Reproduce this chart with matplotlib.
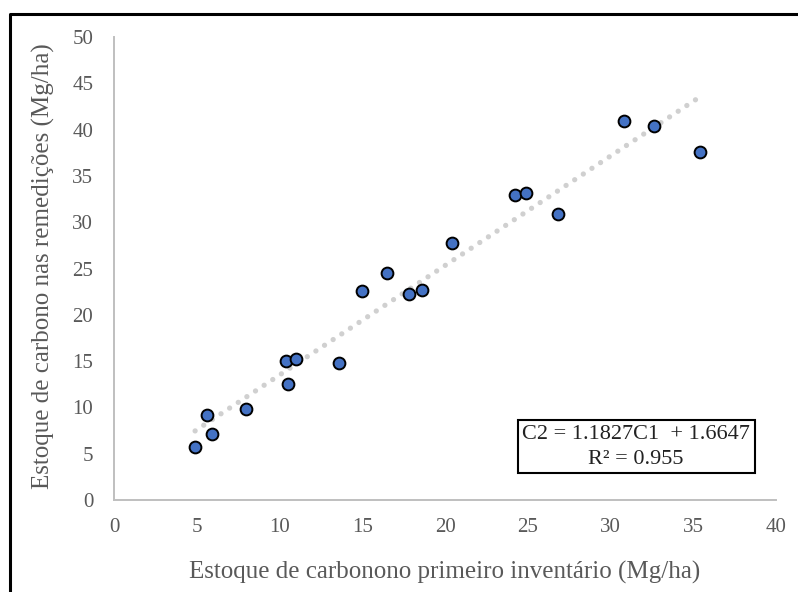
"""Carbon stock: first inventory vs. re-measurements, with linear trend."""

import numpy as np
import matplotlib
matplotlib.use('Agg')
import matplotlib.pyplot as plt
from matplotlib.lines import Line2D

# ── Data ─────────────────────────────────────────────────────────────────────

c1_first = [4.9, 5.6, 5.9, 8.0, 10.4, 10.5, 11.0, 13.6, 15.0, 16.5,
            17.8, 18.6, 20.4, 24.2, 24.9, 26.8, 30.8, 32.6, 35.4]
c2_remeasure = [5.7, 9.2, 7.1, 9.8, 15.0, 12.5, 15.2, 14.8, 22.6, 24.5,
                22.2, 22.7, 27.8, 32.9, 33.1, 30.9, 40.9, 40.4, 37.6]

slope = 1.1827
intercept = 1.6647
r_squared = 0.955

x_ticks = [0, 5, 10, 15, 20, 25, 30, 35, 40]
y_ticks = [0, 5, 10, 15, 20, 25, 30, 35, 40, 45, 50]

# ── Style ─────────────────────────────────────────────────────────────────────

TICK_GREY = '#595959'
SPINE_GREY = '#bfbfbf'
POINT_BLUE = '#4472c4'
TREND_GREY = '#d0d0d0'

plt.rcParams['font.family'] = ['Liberation Serif', 'DejaVu Serif']

fig = plt.figure(figsize=(7.98, 5.92), dpi=100)
ax = fig.add_axes([114 / 798, 1 - 500 / 592, 662 / 798, 463 / 592])

# trend line over the data range
xs = np.array([min(c1_first), max(c1_first)])
ax.plot(xs, slope * xs + intercept, color=TREND_GREY, linewidth=3.8,
        linestyle=(0, (0.01, 1.95)), dash_capstyle='round', zorder=2)

ax.scatter(c1_first, c2_remeasure, s=72, color=POINT_BLUE,
           edgecolors='black', linewidths=1.4, zorder=3)

ax.set_xlim(0, 40)
ax.set_ylim(0, 50)
ax.set_xticks(x_ticks)
ax.set_yticks(y_ticks)
ax.tick_params(length=0, labelsize=15, colors=TICK_GREY)
ax.tick_params(axis='x', pad=13)
ax.tick_params(axis='y', pad=15)

for side in ('top', 'right'):
    ax.spines[side].set_visible(False)
for side in ('left', 'bottom'):
    ax.spines[side].set_color(SPINE_GREY)
    ax.spines[side].set_linewidth(1.4)

ax.set_xlabel('Estoque de carbonono primeiro inventário (Mg/ha)',
              fontsize=18, color=TICK_GREY, va='center')
ax.set_ylabel('Estoque de carbono nas remedições (Mg/ha)',
              fontsize=18, color=TICK_GREY, va='center')
ax.xaxis.set_label_coords(0.5, -0.156)
ax.yaxis.set_label_coords(-0.106, 0.505)

ax.text(31.55, 5.75,
        f'C2 = {slope:.4f}C1  + {intercept:.4f}\nR\u00b2 = {r_squared:.3f}',
        ha='center', va='center', multialignment='center',
        fontsize=16, color='#222222', linespacing=1.45,
        bbox=dict(boxstyle='square,pad=0.2', facecolor='white',
                  edgecolor='black', linewidth=1.5), zorder=4)

# outer frame (only top and left edges visible in the crop)
fig.add_artist(Line2D([10 / 798, 10 / 798, 1.0], [0.0, 1 - 14 / 592, 1 - 14 / 592],
                      transform=fig.transFigure, color='black', linewidth=2.2))

fig.savefig('out.png', dpi=100)
